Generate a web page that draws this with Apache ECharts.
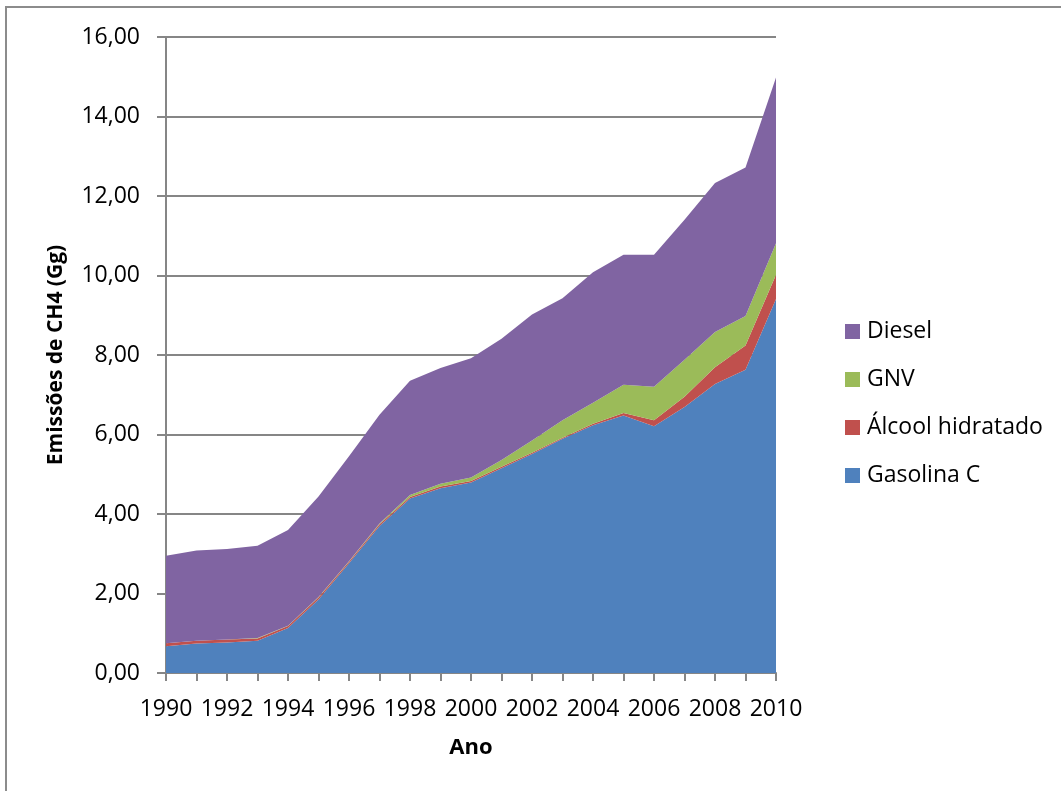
<!DOCTYPE html>
<html>
<head>
<meta charset="utf-8">
<style>
  html, body { margin: 0; padding: 0; background: #ffffff; }
  #chart { width: 1061px; height: 791px; }
</style>
<script src="https://cdn.jsdelivr.net/npm/echarts@6/dist/echarts.min.js"></script>
</head>
<body>
<div id="chart"></div>
<script>
// Emissões de CH4 por combustível (Gg), 1990–2010
const years = ['1990','1991','1992','1993','1994','1995','1996','1997','1998','1999','2000',
               '2001','2002','2003','2004','2005','2006','2007','2008','2009','2010'];
const gasolinaC = [0.67,0.74,0.77,0.81,1.13,1.85,2.76,3.70,4.39,4.65,4.79,5.15,5.51,5.89,6.23,6.48,6.21,6.69,7.27,7.63,9.41];
const alcoolHidratado = [0.08,0.07,0.07,0.06,0.05,0.05,0.04,0.04,0.04,0.04,0.04,0.04,0.03,0.03,0.04,0.06,0.15,0.26,0.42,0.61,0.61];
const gnv = [0.00,0.00,0.00,0.01,0.01,0.01,0.01,0.02,0.05,0.07,0.09,0.17,0.31,0.44,0.53,0.71,0.84,0.93,0.89,0.74,0.79];
const diesel = [2.20,2.27,2.28,2.32,2.41,2.53,2.64,2.74,2.87,2.91,3.00,3.05,3.17,3.07,3.28,3.27,3.32,3.52,3.75,3.74,4.17];
const yTicks = { min: 0, max: 16, step: 2 };

const FONT = 'Open Sans';
const AXIS_GRAY = '#868686';

function areaSeries(name, data, color) {
  return {
    name: name,
    type: 'line',
    stack: 'total',
    data: data,
    symbol: 'none',
    lineStyle: { width: 0 },
    areaStyle: { color: color, opacity: 1 },
    itemStyle: { color: color },
    emphasis: { disabled: true }
  };
}

const chart = echarts.init(document.getElementById('chart'));
chart.setOption({
  animation: false,
  backgroundColor: '#ffffff',
  textStyle: { fontFamily: FONT },
  graphic: [{
    type: 'rect',
    shape: { x: 6, y: 7, width: 1200, height: 1000 },
    style: { fill: 'none', stroke: '#8c8c8c', lineWidth: 2 },
    silent: true
  }],
  grid: { left: 166, right: 285, top: 37, bottom: 118 },
  legend: {
    orient: 'vertical',
    left: 840,
    top: 315,
    itemWidth: 15,
    itemHeight: 15,
    itemGap: 25,
    icon: 'rect',
    data: ['Diesel', 'GNV', 'Álcool hidratado', 'Gasolina C'],
    textStyle: { fontFamily: FONT, fontSize: 23, lineHeight: 15, color: '#000000', padding: [0, 0, 0, 2] }
  },
  xAxis: {
    type: 'category',
    data: years,
    boundaryGap: false,
    name: 'Ano',
    nameLocation: 'middle',
    nameGap: 64,
    nameTextStyle: { fontFamily: FONT, fontSize: 22, fontWeight: 'bold', color: '#000000' },
    axisLine: { show: true, lineStyle: { color: AXIS_GRAY, width: 2 } },
    axisTick: { show: true, interval: 0, length: 8, lineStyle: { color: AXIS_GRAY, width: 2 } },
    axisLabel: { interval: 1, margin: 25, fontFamily: FONT, fontSize: 23, color: '#000000' },
    splitLine: { show: false }
  },
  yAxis: {
    type: 'value',
    min: yTicks.min,
    max: yTicks.max,
    interval: yTicks.step,
    name: 'Emissões de CH4 (Gg)',
    nameLocation: 'middle',
    nameRotate: 90,
    nameGap: 99,
    nameTextStyle: { fontFamily: FONT, fontSize: 21, fontWeight: 'bold', color: '#000000' },
    axisLine: { show: true, lineStyle: { color: AXIS_GRAY, width: 2 } },
    axisTick: { show: true, length: 9, lineStyle: { color: AXIS_GRAY, width: 2 } },
    axisLabel: {
      margin: 26, fontFamily: FONT, fontSize: 23, color: '#000000',
      formatter: v => v.toFixed(2).replace('.', ',')
    },
    splitLine: { show: true, lineStyle: { color: AXIS_GRAY, width: 2 } }
  },
  series: [
    areaSeries('Gasolina C', gasolinaC, '#4F81BD'),
    areaSeries('Álcool hidratado', alcoolHidratado, '#C0504D'),
    areaSeries('GNV', gnv, '#9BBB59'),
    areaSeries('Diesel', diesel, '#8064A2')
  ]
});
</script>
</body>
</html>
